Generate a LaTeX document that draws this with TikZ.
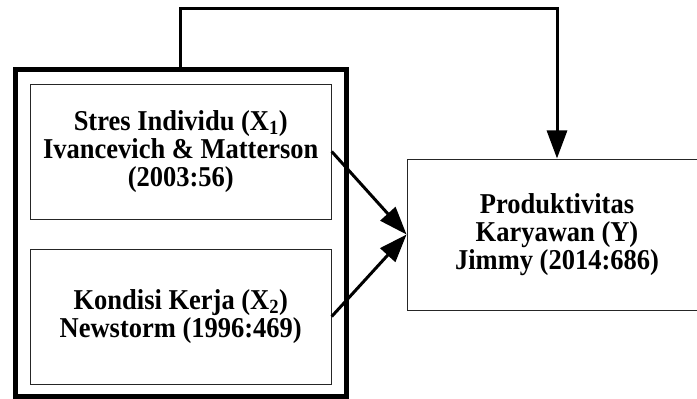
\documentclass[tikz,border=0pt]{standalone}
\usepackage{fontspec}
\setmainfont{Liberation Serif}
\usetikzlibrary{arrows.meta,calc}
\begin{document}
\begin{tikzpicture}[x=1pt,y=-1pt,
  inbox/.style={draw=black!85,line width=0.9pt,rectangle,inner sep=0pt,
    yscale=1.085,transform shape,
    minimum width=301pt,minimum height=124.4pt,align=center,
    font=\fontsize{26.5}{25.8}\selectfont\bfseries},
  outbox/.style={draw=black,line width=5pt,rectangle,inner sep=0pt,
    minimum width=331.5pt,minimum height=327.5pt},
  conn/.style={line width=3pt,-{Triangle[length=28pt,width=20pt]}}]
\useasboundingbox (0,0) rectangle (697,399);
\node[outbox] (outer) at (180.75,232.75) {};
\node[inbox] (b1) at (180.75,151.5) {Stres Individu (X\textsubscript{1})\\Ivancevich \& Matterson\\(2003:56)};
\node[inbox] (b2) at (180.75,316.5) {Kondisi Kerja (X\textsubscript{2})\\Newstorm (1996:469)};
\node[inbox,minimum width=300pt,minimum height=139.2pt] (y) at (557,234.5) {Produktivitas\\Karyawan (Y)\\Jimmy (2014:686)};
\coordinate (top) at (180.75,8);
\draw[conn] (b1.east) -- (y.west);
\draw[conn] (b2.east) -- (y.west);
\draw[conn] (outer.north) -- (top) -| (y.north);
\end{tikzpicture}
\end{document}
